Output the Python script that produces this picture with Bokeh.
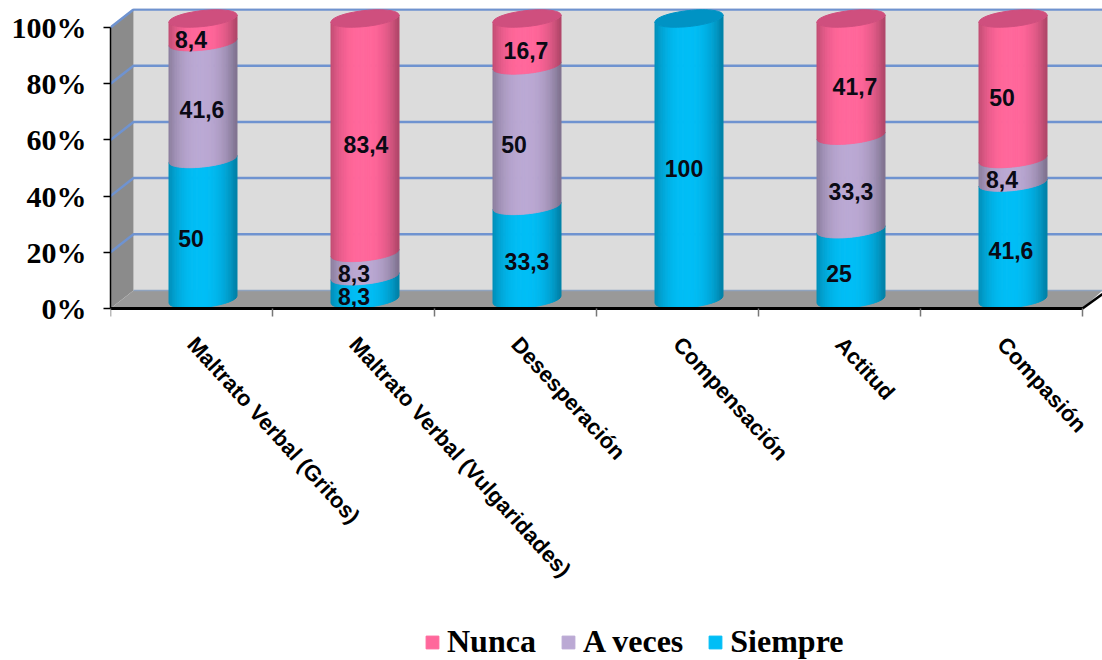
from bokeh.plotting import figure
from bokeh.embed import file_html
from bokeh.resources import INLINE
from bokeh.core.properties import value
from bokeh.models import FixedTicker, Range1d, Legend, LegendItem, ColumnDataSource
import numpy as np

categories = ["Maltrato Verbal (Gritos)", "Maltrato Verbal (Vulgaridades)", "Desesperación",
              "Compensación", "Actitud", "Compasión"]
siempre = [50, 8.3, 33.3, 100, 25, 41.6]
a_veces = [41.6, 8.3, 50, 0, 33.3, 8.4]
nunca = [8.4, 83.4, 16.7, 0, 41.7, 50]
tick_values = [0, 20, 40, 60, 80, 100]
tick_labels = ["0%", "20%", "40%", "60%", "80%", "100%"]
siempre_color = (0, 187, 242)
a_veces_color = (184, 166, 208)
nunca_color = (255, 102, 153)
siempre_dx = [-12, -11, 0, -5, -12, -2]
a_veces_dx = [-1, -11, -13, 0, 0, -11]
nunca_dx = [-12, 1, -1, 0, 4, -11]

UX, UY = 162.0, 2.81
FW, FH = 992, 652
DX, DY = 23 / UX, 18 / UY
X_END, Y_END = FW / UX, 300 / UY
Y_START = -352 / UY
BAR_HALF = 34 / UX
TILT, ELL = 3.5 / UY, 8 / UY
N = 40

p = figure(output_backend="svg", toolbar_location=None, frame_width=FW, frame_height=FH,
           width=1102, height=660, min_border_left=110, min_border_right=0, min_border_top=8,
           min_border_bottom=0, x_range=Range1d(0, X_END), y_range=Range1d(Y_START, Y_END),
           background_fill_color="white", border_fill_color="white", outline_line_color=None)
p.grid.visible = False

p.patch([DX, X_END, X_END, DX], [DY, DY, Y_END, Y_END], fill_color="#dcdcdc", line_color=None)
p.patch([0, DX, DX, 0], [0, DY, 100 + DY, 100], fill_color="#8b8b8b", line_color=None)
p.patch([0, DX, X_END, 6], [0, DY, DY, 0], fill_color="#999999", line_color=None)
p.patch([6, X_END, X_END], [0, (X_END - 6) * UX * 0.72 / UY, 0], fill_color="white", line_color=None)
p.line([6, X_END], [0, (X_END - 6) * UX * 0.72 / UY], line_color="black", line_width=2.5)

xs_g, ys_g = [], []
for t in tick_values[1:]:
    xs_g.append([0, DX, X_END])
    ys_g.append([t, t + DY, t + DY])
p.multi_line(xs_g, ys_g, line_color="#6f93d0", line_width=2.5)
p.line([DX, X_END], [DY, DY], line_color="#8fa3bf", line_width=1.5)


def shade(rgb, u):
    k = 0.72 + 0.30 * (1 - abs(u) ** 2.4)
    return "#%02x%02x%02x" % tuple(int(min(255, c * k)) for c in rgb)


def edge(base, us):
    w = np.sqrt(np.clip(1 - us ** 2, 0, 1))
    return base + TILT * us - ELL * w


series = [("Siempre", siempre, siempre_color, siempre_dx),
          ("A veces", a_veces, a_veces_color, a_veces_dx),
          ("Nunca", nunca, nunca_color, nunca_dx)]

edges_u = np.linspace(-1, 1, N + 1)
bottoms = np.zeros(6)
renderers = {}
lx, ly, lt, lo = [], [], [], []
mid_y = DY / 2
for name, vals, rgb, dxs in series:
    xs, ys, cols = [], [], []
    for i, v in enumerate(vals):
        cx = i + 0.5 + DX / 2
        if v > 0:
            for k in range(N):
                us = np.linspace(edges_u[k], edges_u[k + 1], 4)
                sx = cx + us * BAR_HALF
                lo_y = edge(bottoms[i] + mid_y, us)
                hi_y = edge(bottoms[i] + v + mid_y, us)
                xs.append(list(sx) + list(sx[::-1]))
                ys.append(list(lo_y) + list(hi_y[::-1]))
                cols.append(shade(rgb, (edges_u[k] + edges_u[k + 1]) / 2 + 0.05))
            lx.append(cx)
            ly.append(bottoms[i] + v / 2)
            lt.append(("%g" % v).replace(".", ","))
            lo.append(dxs[i])
        bottoms[i] += v
    src = ColumnDataSource(dict(xs=xs, ys=ys, c=cols))
    renderers[name] = p.patches("xs", "ys", source=src, fill_color="c", line_color="c", line_width=1)

cap_x, cap_y, cap_c = [], [], []
theta = np.linspace(0, 2 * np.pi, 60)
for i in range(6):
    cx = i + 0.5 + DX / 2
    top = bottoms[i] + mid_y
    u = np.cos(theta)
    cap_x.append(list(cx + u * BAR_HALF))
    cap_y.append(list(top + TILT * u + ELL * np.sin(theta)))
    cap_c.append("#0093c4" if nunca[i] == 0 else "#cf4f7e")
p.patches(cap_x, cap_y, fill_color=cap_c, line_color=cap_c)

p.text(lx, ly, text=lt, x_offset=lo, text_font=value("Liberation Sans"), text_font_style="bold",
       text_font_size="23px", text_align="center", text_baseline="middle", text_color="#0a0a14")

yax = p.yaxis[0]
yax.ticker = FixedTicker(ticks=tick_values)
yax.major_label_overrides = dict(zip(tick_values, tick_labels))
yax.bounds = (0, 100)
yax.major_label_text_font = "Liberation Serif"
yax.major_label_text_font_style = "bold"
yax.major_label_text_font_size = "30px"
yax.major_label_text_color = "black"
yax.major_label_standoff = 17
yax.major_tick_out, yax.major_tick_in, yax.minor_tick_out, yax.minor_tick_in = 7, 0, 0, 0
yax.major_tick_line_color = "black"
yax.major_tick_line_width = 1.5
yax.axis_line_color = "black"
yax.axis_line_width = 1.5

xax = p.xaxis[0]
centers = [i + 0.5 for i in range(6)]
xax.fixed_location = 0
xax.ticker = FixedTicker(ticks=centers, minor_ticks=list(range(7)))
xax.major_label_overrides = dict(zip(centers, categories))
xax.bounds = (0, 6)
xax.major_tick_out, xax.major_tick_in = 0, 0
xax.minor_tick_out, xax.minor_tick_in = 8, 0
xax.minor_tick_line_color = "#777777"
xax.minor_tick_line_width = 1.5
xax.axis_line_color = "black"
xax.axis_line_width = 3
xax.major_label_orientation = -0.83
xax.major_label_standoff = 24
xax.major_label_text_font = "Liberation Sans"
xax.major_label_text_font_style = "bold"
xax.major_label_text_font_size = "22px"
xax.major_label_text_color = "black"

mid = N // 2
items = [LegendItem(label=n, renderers=[renderers[n]], index=mid) for n in ["Nunca", "A veces", "Siempre"]]
leg = Legend(items=items, orientation="horizontal", location=(314, 0), glyph_width=16, glyph_height=16,
             label_text_font="Liberation Serif", label_text_font_style="bold", label_text_font_size="32px",
             label_text_color="black", background_fill_alpha=0, border_line_color=None, spacing=24,
             label_standoff=7, margin=0, padding=0)
p.add_layout(leg, "center")

open("out.html", "w").write(file_html(p, INLINE))
